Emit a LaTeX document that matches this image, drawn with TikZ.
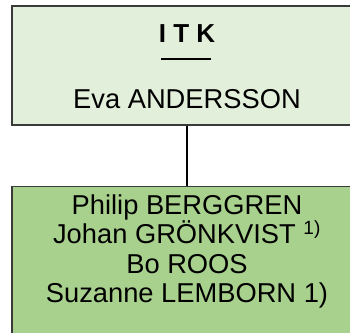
\documentclass[tikz,border=0pt]{standalone}
\usepackage{fontspec}
\setmainfont{Liberation Sans}
\usepackage{tikz}
\usetikzlibrary{positioning}
\definecolor{itkfill}{HTML}{E2EFDA}
\definecolor{teamfill}{HTML}{A9D18E}
\definecolor{boxline}{HTML}{3A3A3A}

\begin{document}
\begin{tikzpicture}[x=1bp,y=-1bp,
                    every node/.style={font=\fontsize{27.3bp}{30bp}\selectfont}]
  \tikzstyle{unit}=[draw=boxline, line width=1.2bp, minimum width=350bp, inner sep=0pt]
  \tikzstyle{member}=[anchor=base, inner sep=0pt]

  \useasboundingbox (0,0) rectangle (350,333);
  \clip (0,0) rectangle (350,333);

  \node[unit, fill=itkfill, minimum height=119bp] (itk) at (187,65.5) {};
  \node[unit, fill=teamfill, minimum height=170bp, anchor=north] (team) at (187,186) {};

  \node[member, font=\fontsize{26bp}{30bp}\selectfont\bfseries] (itkname) at (187,42) {I T K};
  \node[member] (head) at (187,108) {Eva ANDERSSON};
  \draw[line width=1.5bp] (161,59) -- (211,59);

  \node[member] (m1) at (187,214) {Philip BERGGREN};
  \node[member] (m2) at (187,243.5) {Johan GRÖNKVIST \textsuperscript{1)}};
  \node[member] (m3) at (187,273) {Bo ROOS};
  \node[member] (m4) at (187,302.5) {Suzanne LEMBORN 1)};

  \draw[line width=2.8bp] (itk.south) -- (team.north);
\end{tikzpicture}
\end{document}
